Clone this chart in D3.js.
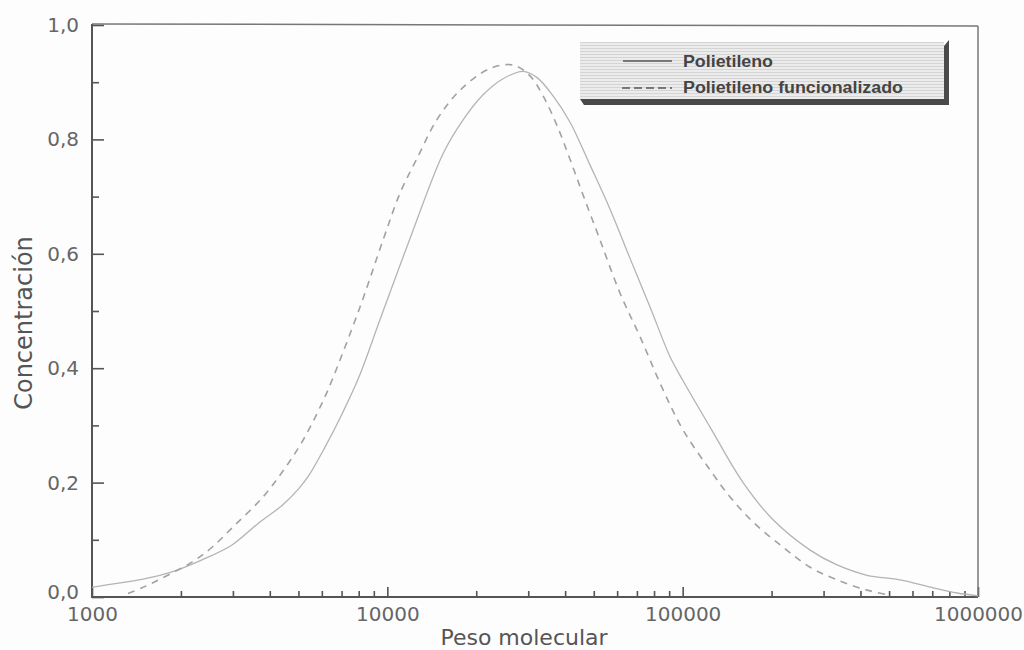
<!DOCTYPE html>
<html>
<head>
<meta charset="utf-8">
<script src="https://cdn.jsdelivr.net/npm/d3@7"></script>
<style>
  html, body { margin: 0; padding: 0; background: #fdfdfd; }
  svg { display: block; }
</style>
</head>
<body>
<svg id="chart" width="1024" height="650"></svg>
<script>
// ---- Data ----
const seriesNames = ["Polietileno", "Polietileno funcionalizado"];

const mwPE = [1000, 1215, 1477, 1866, 2358, 2980, 3678, 4400, 5023, 5431, 6152, 7024, 8021,
  9522, 12120, 15440, 18100, 21100, 24650, 28810, 32140, 36400, 41560, 48580, 56770, 66340, 77540,
  90640, 100300, 123800, 160200, 202400, 270100, 333400, 421000, 544700, 704700, 849700, 1000000];
const concPE = [0.017, 0.024, 0.031, 0.044, 0.065, 0.091, 0.13, 0.16, 0.19, 0.213, 0.262, 0.32, 0.385,
  0.49, 0.636, 0.775, 0.835, 0.878, 0.906, 0.919, 0.908, 0.876, 0.83, 0.755, 0.678, 0.592, 0.507,
  0.42, 0.378, 0.297, 0.2, 0.135, 0.082, 0.056, 0.038, 0.03, 0.016, 0.007, 0.002];

const mwPEF = [1324, 1477, 1726, 2181, 2550, 3050, 3765, 4400, 5141, 6010, 6496, 8082, 9670,
  11040, 12610, 14740, 17630, 22270, 26650, 30420, 33680, 37560, 41560, 45990, 52520, 61380,
  71740, 85830, 100300, 123800, 144700, 173200, 218800, 270100, 333400, 421000, 503900];
const concPEF = [0.006, 0.016, 0.033, 0.061, 0.087, 0.126, 0.173, 0.218, 0.271, 0.339, 0.379, 0.507, 0.624,
  0.706, 0.767, 0.835, 0.886, 0.924, 0.93, 0.911, 0.876, 0.824, 0.765, 0.703, 0.624, 0.531,
  0.455, 0.362, 0.292, 0.222, 0.175, 0.131, 0.087, 0.052, 0.03, 0.012, 0.003];

const xMajorTicks = [1000, 10000, 100000, 1000000];
const xTickLabels = ["1000", "10000", "100000", "1000000"];
const yMajorTicks = [0, 0.2, 0.4, 0.6, 0.8, 1.0];
const yTickLabels = ["0,0", "0,2", "0,4", "0,6", "0,8", "1,0"];
const yMinorTicks = [0.1, 0.3, 0.5, 0.7, 0.9];
const xTitle = "Peso molecular";
const yTitle = "Concentración";

// ---- Layout ----
const L = 92, R = 978, T = 25, B = 597;
const svg = d3.select("#chart");

const x = d3.scaleLog().domain([1000, 1000000]).range([L, R]);
const y = d3.scaleLinear().domain([0, 1]).range([B, T]);

// hatch pattern for legend
const defs = svg.append("defs");
const pat = defs.append("pattern").attr("id", "hatch").attr("patternUnits", "userSpaceOnUse")
  .attr("width", 6).attr("height", 3);
pat.append("rect").attr("width", 6).attr("height", 3).attr("fill", "#ececec");
pat.append("line").attr("x1", 0).attr("x2", 6).attr("y1", 0.5).attr("y2", 0.5)
  .attr("stroke", "#d4d4d4").attr("stroke-width", 1);

svg.append("rect").attr("width", 1024).attr("height", 650).attr("fill", "#fdfdfd");

// minor x ticks
const xMinor = [];
[1000, 10000, 100000].forEach(d => { for (let k = 2; k <= 9; k++) xMinor.push(d * k); });

const tickFont = "'DejaVu Sans', sans-serif";

const gxMinor = svg.append("g").attr("transform", `translate(0,${B})`)
  .call(d3.axisBottom(x).tickValues(xMinor).tickSize(-6).tickFormat(""));
const gx = svg.append("g").attr("transform", `translate(0,${B})`)
  .call(d3.axisBottom(x).tickValues(xMajorTicks).tickSize(-10).tickPadding(10)
    .tickFormat((d, i) => xTickLabels[i]));
const gyMinor = svg.append("g").attr("transform", `translate(${L},0)`)
  .call(d3.axisLeft(y).tickValues(yMinorTicks).tickSize(-7).tickFormat(""));
const gy = svg.append("g").attr("transform", `translate(${L},0)`)
  .call(d3.axisLeft(y).tickValues(yMajorTicks).tickSize(-12).tickPadding(13)
    .tickFormat((d, i) => yTickLabels[i]));

[gxMinor, gx, gyMinor, gy].forEach(g => {
  g.select(".domain").remove();
  g.selectAll(".tick line").attr("stroke", "#555").attr("stroke-width", 1.6);
  g.selectAll(".tick text").attr("fill", "#666").style("font-family", tickFont).style("font-size", "20px");
});
// the "0,0" label sits slightly above its tick in the reference
gy.selectAll(".tick text").filter(d => d === 0).attr("dy", "0.05em");

// frame
svg.append("line").attr("x1", L).attr("x2", R).attr("y1", T - 1).attr("y2", T + 1)
  .attr("stroke", "#777").attr("stroke-width", 1.5);
svg.append("line").attr("x1", R).attr("x2", R).attr("y1", T + 1).attr("y2", B)
  .attr("stroke", "#777").attr("stroke-width", 1.5);
svg.append("line").attr("x1", L).attr("x2", L).attr("y1", T - 1).attr("y2", B + 1)
  .attr("stroke", "#555").attr("stroke-width", 2);
svg.append("line").attr("x1", L).attr("x2", R).attr("y1", B).attr("y2", B)
  .attr("stroke", "#555").attr("stroke-width", 2);

// curves
const line = d3.line().x(d => x(d[0])).y(d => y(d[1])).curve(d3.curveCatmullRom.alpha(0.5));
const pe = mwPE.map((m, i) => [m, concPE[i]]);
const pef = mwPEF.map((m, i) => [m, concPEF[i]]);

svg.append("path").datum(pe).attr("d", line).attr("fill", "none")
  .attr("stroke", "#b4b4b4").attr("stroke-width", 1.3);
svg.append("path").datum(pef).attr("d", line).attr("fill", "none")
  .attr("stroke", "#a2a2a2").attr("stroke-width", 1.6).attr("stroke-dasharray", "7,6");

// legend
const lg = svg.append("g");
lg.append("rect").attr("x", 580).attr("y", 42).attr("width", 364).attr("height", 57).attr("fill", "url(#hatch)");
lg.append("polygon")
  .attr("points", "944,46 949,40 949,105 584,105 580,99 944,99")
  .attr("fill", "#4a4a4a");
lg.append("line").attr("x1", 623).attr("x2", 672).attr("y1", 61).attr("y2", 61)
  .attr("stroke", "#555").attr("stroke-width", 1.3);
lg.append("line").attr("x1", 622).attr("x2", 672).attr("y1", 88).attr("y2", 88)
  .attr("stroke", "#555").attr("stroke-width", 1.3).attr("stroke-dasharray", "8,4");
lg.append("text").attr("x", 683).attr("y", 67).text(seriesNames[0])
  .attr("textLength", 90).attr("lengthAdjust", "spacingAndGlyphs")
  .attr("fill", "#444").style("font-family", "'Liberation Sans', Arial, sans-serif")
  .style("font-size", "16px").style("font-weight", "bold");
lg.append("text").attr("x", 683).attr("y", 93).text(seriesNames[1])
  .attr("textLength", 220).attr("lengthAdjust", "spacingAndGlyphs")
  .attr("fill", "#444").style("font-family", "'Liberation Sans', Arial, sans-serif")
  .style("font-size", "16px").style("font-weight", "bold");

// axis titles
svg.append("text").attr("x", 524).attr("y", 645).attr("text-anchor", "middle")
  .attr("fill", "#555").style("font-family", tickFont).style("font-size", "22px").text(xTitle);
svg.append("text").attr("transform", "translate(32,323) rotate(-90)").attr("text-anchor", "middle")
  .attr("fill", "#555").style("font-family", tickFont).style("font-size", "24px").text(yTitle);
</script>
</body>
</html>
